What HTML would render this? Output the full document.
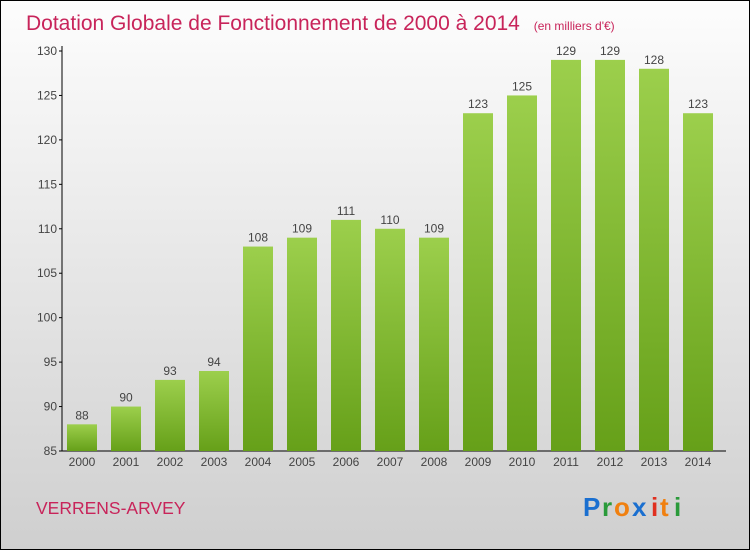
<!DOCTYPE html>
<html><head><meta charset="utf-8"><style>
body{margin:0;width:750px;height:550px;overflow:hidden}
svg{display:block;font-family:"Liberation Sans",sans-serif}
</style></head><body>
<svg id="c" width="750" height="550">
<defs>
<linearGradient id="bg" x1="0" y1="0" x2="0" y2="1"><stop offset="0" stop-color="#fdfdfd"/><stop offset="1" stop-color="#cfcfcf"/></linearGradient>
<linearGradient id="bar" x1="0" y1="0" x2="0" y2="1"><stop offset="0" stop-color="#9ccf4c"/><stop offset="1" stop-color="#66a019"/></linearGradient>
</defs>
<rect x="0.5" y="0.5" width="749" height="549" fill="url(#bg)" stroke="#000"/>
<text x="26" y="30" font-size="21" fill="#c8245a">Dotation Globale de Fonctionnement de 2000 à 2014 <tspan font-size="12" dx="8">(en milliers d'€)</tspan></text>
<text x="36" y="514" font-size="17.5" fill="#c8245a">VERRENS-ARVEY</text>
<g font-size="26" font-weight="bold" font-family="Liberation Sans,sans-serif">
<text x="583" y="516" fill="#1a6fd0">P</text><text x="602" y="516" fill="#2a9a3a">r</text><text x="614" y="516" fill="#f08010">o</text><text x="632" y="516" fill="#1a6fd0">x</text><text x="651" y="516" fill="#e03020">i</text><text x="660" y="516" fill="#f08010">t</text><text x="674" y="516" fill="#2a9a3a">i</text>
</g>
<g id="g"></g>
</svg>
<script>
const years=["2000","2001","2002","2003","2004","2005","2006","2007","2008","2009","2010","2011","2012","2013","2014"];
const values=[88,90,93,94,108,109,111,110,109,123,125,129,129,128,123];
const ticks=[85,90,95,100,105,110,115,120,125,130];
const NS="http://www.w3.org/2000/svg",g=document.getElementById('g');
const y=v=>451-(v-85)*(400/45);
const x=i=>67+i*44.0;
function mk(t,a){const e=document.createElementNS(NS,t);for(const k in a)e.setAttribute(k,a[k]);g.appendChild(e);return e;}
let ax=mk('line',{x1:62,y1:46,x2:62,y2:451,stroke:'#000'});


let bx=mk('line',{x1:62,y1:451,x2:726,y2:451,stroke:'#000'});


ticks.forEach(t=>{
 let l=mk('line',{x1:59,y1:y(t),x2:62,y2:y(t),stroke:'#000'});
 
 
 let tx=mk('text',{x:57,y:y(t)+4,'text-anchor':'end','font-size':12,fill:'#444'});tx.textContent=t;
 
 
});
values.forEach((v,i)=>{
 let r=mk('rect',{x:x(i),y:y(v),width:30,height:451-y(v),fill:'url(#bar)'});
 
 
 let lb=mk('text',{x:x(i)+15,y:y(v)-5,'text-anchor':'middle','font-size':12,fill:'#444'});lb.textContent=v;
 
 
 let xl=mk('text',{x:x(i)+15,y:466,'text-anchor':'middle','font-size':12,fill:'#444'});xl.textContent=years[i];
 
 
});
</script>
</body></html>
